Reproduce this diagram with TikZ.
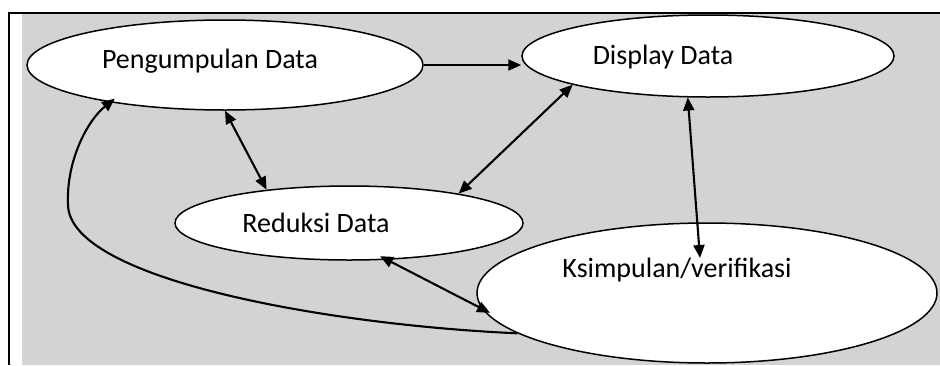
\documentclass[tikz,border=0pt]{standalone}
\usepackage{fontspec}
\setmainfont{Carlito}
\usetikzlibrary{shapes.geometric,arrows.meta}
\definecolor{bggray}{RGB}{211,211,211}
\begin{document}
\begin{tikzpicture}[x=1pt,y=-1pt,
  bubble/.style={ellipse,draw=black,line width=1.5pt,fill=white,inner sep=0pt},
  caption/.style={anchor=base,inner sep=0pt,font=\fontsize{28}{33}\selectfont},
  tipped/.style={line width=2.1pt,-{Triangle[length=13pt,width=11pt]}},
  twoway/.style={line width=2.1pt,{Triangle[length=13pt,width=11pt]}-{Triangle[length=13pt,width=11pt]}}]
\useasboundingbox (0,0) rectangle (940,365);
% shaded panel and frame
\fill[bggray] (22,14) rectangle (940,365);
\draw[line width=2pt] (9,365) -- (9,12.5) -- (940,12.5);

% the four stages
\node[bubble,minimum width=396pt,minimum height=90pt] (P) at (225,65) {};
\node[bubble,minimum width=372pt,minimum height=82pt] (D) at (708,56) {};
\node[bubble,minimum width=348pt,minimum height=74pt] (R) at (349,223) {};
\node[bubble,minimum width=460pt,minimum height=140pt] (K) at (707,293) {};

\node[caption] (Pt) at (210,68) {Pengumpulan Data};
\node[caption] (Dt) at (663,64) {Display Data};
\node[caption] (Rt) at (316,232) {Reduksi Data};
\node[caption] (Kt) at (677,277) {Ksimpulan/verifikasi};

\coordinate (kin) at (700,258);

% flows between stages
\draw[tipped] (P.east) -- (P.east -| D.west);
\draw[twoway] (P.south) -- (R.158);
\draw[twoway] (D.192) -- (R.15);
\draw[twoway] (D.244) -- (kin);
\draw[twoway,shorten <=-8pt,shorten >=-9pt] (R.-44) -- (K.184);
\draw[tipped,shorten >=-6pt] (K.192.6) .. controls (330,325) and (70,280) .. (68,205)
  .. controls (66,160) and (88,120) .. (P.198);
\end{tikzpicture}
\end{document}
